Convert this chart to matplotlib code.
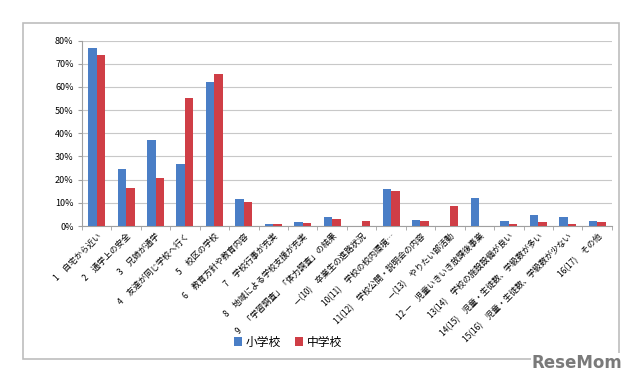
import numpy as np
import matplotlib
matplotlib.use("Agg")
import matplotlib.pyplot as plt
from matplotlib.ticker import PercentFormatter, FixedLocator

plt.rcParams['font.family'] = ['Noto Sans CJK JP', 'DejaVu Sans']

# 選択理由（複数回答）
labels = [
    "1　自宅から近い",
    "2　通学上の安全",
    "3　兄姉が通学",
    "4　友達が同じ学校へ行く",
    "5　校区の学校",
    "6　教育方針や教育内容",
    "7　学校行事が充実",
    "8　地域による学校支援が充実",
    "9　「学習調査」「体力調査」の結果",
    "—(10)　卒業生の進路状況",
    "10(11)　学校の校内環境…",
    "11(12)　学校公開・説明会の内容",
    "—(13)　やりたい部活動",
    "12 —　児童いきいき放課後事業",
    "13(14)　学校の施設設備が良い",
    "14(15)　児童・生徒数、学級数が多い",
    "15(16)　児童・生徒数、学級数が少ない",
    "16(17)　その他",
]
elementary = [76.7, 24.7, 37.0, 26.9, 62.3, 11.5, 1.0, 1.7, 4.0, 0.0,
              15.8, 2.6, 0.0, 12.3, 2.3, 4.9, 3.9, 2.3]
junior = [73.7, 16.3, 20.6, 55.4, 65.6, 10.5, 1.0, 1.3, 3.2, 2.0,
          15.0, 2.1, 8.6, 0.0, 1.0, 1.6, 0.8, 1.9]

blue = '#4A7EC6'
red = '#CF3E46'

fig = plt.figure(figsize=(6.4, 3.87), dpi=100)
ax = fig.add_axes([0.128, 0.416, 0.828, 0.479])

x = np.arange(len(labels))
w = 0.29
ax.bar(x - w / 2, elementary, w, color=blue, label='小学校', zorder=3)
ax.bar(x + w / 2, junior, w, color=red, label='中学校', zorder=3)

ax.set_xlim(-0.5, len(labels) - 0.5)
ax.set_ylim(0, 80)
ax.set_yticks(np.arange(0, 81, 10))
ax.yaxis.set_major_formatter(PercentFormatter(decimals=0))
ax.grid(axis='y', color='#C8C8C8', linewidth=0.8, zorder=0)

ax.set_xticks(x)
ax.set_xticklabels(labels, rotation=45, ha='right', rotation_mode='anchor', fontsize=6.0)
ax.xaxis.set_minor_locator(FixedLocator(np.arange(-0.5, len(labels), 1)))
ax.tick_params(axis='x', which='major', length=0, pad=4)
ax.tick_params(axis='x', which='minor', length=3, color='#A0A0A0')
ax.tick_params(axis='y', length=3, color='#A0A0A0', labelsize=6.5, pad=3)

for s in ['top', 'right']:
    ax.spines[s].set_visible(False)
for s in ['left', 'bottom']:
    ax.spines[s].set_color('#A0A0A0')
    ax.spines[s].set_linewidth(0.8)

fig.legend(loc='center', bbox_to_anchor=(0.45, 0.116), ncol=2, frameon=False,
           fontsize=8.5, handlelength=0.7, handleheight=0.7, handletextpad=0.3,
           columnspacing=1.2)

# 外枠
frame = plt.Rectangle((23 / 640, 1 - 359 / 387), (619 - 23) / 640, (359 - 23) / 387,
                      transform=fig.transFigure, fill=False, edgecolor='#BDBDBD',
                      linewidth=1.2)
fig.add_artist(frame)
fig.text(0.902, 0.062, 'ReseMom', fontsize=12, fontweight='bold', color='#7A7A7A',
         ha='center', va='center', family='DejaVu Sans',
         bbox=dict(facecolor='white', edgecolor='none', pad=1))

fig.savefig('out.png', dpi=100)
